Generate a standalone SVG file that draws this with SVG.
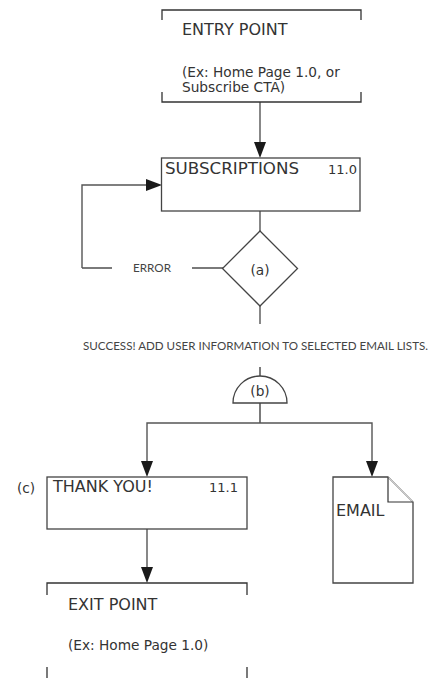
<svg xmlns="http://www.w3.org/2000/svg" width="437" height="678" viewBox="0 0 437 678">
<style>
.bg{fill:#ffffff}
.box{fill:#ffffff;stroke:#444;stroke-width:1.3}
.br{fill:none;stroke:#333;stroke-width:1.3}
.ln{fill:none;stroke:#555;stroke-width:1.4}
.lk{fill:none;stroke:#222;stroke-width:1.2}
.t{font-family:"DejaVu Sans","Verdana",sans-serif;fill:#333}
.big{font-size:16px}
.mid{font-size:13.7px}
.num{font-size:13px}
.lbl{font-family:"Lato","Open Sans",sans-serif;font-size:10.5px;fill:#444}
</style>
<rect class="bg" x="0" y="0" width="437" height="678"/>

<g id="connectors">
<path class="ln" d="M260,102 V142"/>
<path d="M254,142 L266,142 L260,158 Z" fill="#1a1a1a"/>
<path class="ln" d="M260,211 V232"/>
<path class="lk" d="M223,268 H192"/>
<path class="lk" d="M112,268 H82"/>
<path class="ln" d="M82,268 V185 H146"/>
<path d="M146,179 L162,185 L146,191 Z" fill="#1a1a1a"/>
<path class="ln" d="M260,306 V324"/>
<path class="lk" d="M260,367 V377"/>
<path class="lk" d="M260,403 V423"/>
<path class="ln" d="M147,461 V423 H372 V461"/>
<path d="M141,461 L153,461 L147,477 Z" fill="#1a1a1a"/>
<path d="M366,461 L378,461 L372,477 Z" fill="#1a1a1a"/>
<path class="ln" d="M147,529 V567"/>
<path d="M141,567 L153,567 L147,583 Z" fill="#1a1a1a"/>
<text class="lbl" x="133" y="272" textLength="38" lengthAdjust="spacingAndGlyphs">ERROR</text>
<text class="lbl" x="83" y="350" textLength="345" lengthAdjust="spacingAndGlyphs">SUCCESS! ADD USER INFORMATION TO SELECTED EMAIL LISTS.</text>
</g>

<g id="entry">
<path class="br" d="M162,20 V10 H361 V20"/>
<path class="br" d="M162,92 V102 H361 V92"/>
<text class="t big" x="182" y="35">ENTRY POINT</text>
<text class="t mid" x="182" y="77">(Ex: Home Page 1.0, or</text>
<text class="t mid" x="182" y="92">Subscribe CTA)</text>
</g>

<g id="subscriptions">
<rect class="box" x="161.5" y="158" width="198.5" height="53"/>
<text class="t big" x="165" y="174" textLength="134" lengthAdjust="spacingAndGlyphs">SUBSCRIPTIONS</text>
<text class="t num" x="328" y="174">11.0</text>
</g>

<g id="decision-a">
<path class="box" d="M260,231 L297.5,268.5 L260,306 L222.5,268.5 Z"/>
<text class="t mid" x="260" y="275" text-anchor="middle">(a)</text>
</g>

<g id="merge-b">
<path class="box" d="M233,403 A27,27 0 0 1 287,403 Z"/>
<text class="t mid" x="260" y="396" text-anchor="middle">(b)</text>
</g>

<g id="thankyou">
<rect class="box" x="47" y="477" width="200" height="52"/>
<text class="t big" x="53" y="492">THANK YOU!</text>
<text class="t num" x="209" y="492">11.1</text>
<text class="t mid" x="17" y="493">(c)</text>
</g>

<g id="email">
<path d="M333,477 H388 L413,502 V583 H333 Z" fill="#ffffff" stroke="#444" stroke-width="1.3"/>
<path d="M388,477 L413,502" stroke="#ccc" stroke-width="1.2"/>
<path d="M388,477 V502 H413" fill="none" stroke="#333" stroke-width="1.2"/>
<text class="t big" x="336" y="516">EMAIL</text>
</g>

<g id="exit">
<path class="br" d="M47,595 V583 H247 V595"/>
<path class="br" d="M47,667 V678 M247,667 V678"/>
<text class="t big" x="68" y="610">EXIT POINT</text>
<text class="t mid" x="68" y="650">(Ex: Home Page 1.0)</text>
</g>
</svg>
